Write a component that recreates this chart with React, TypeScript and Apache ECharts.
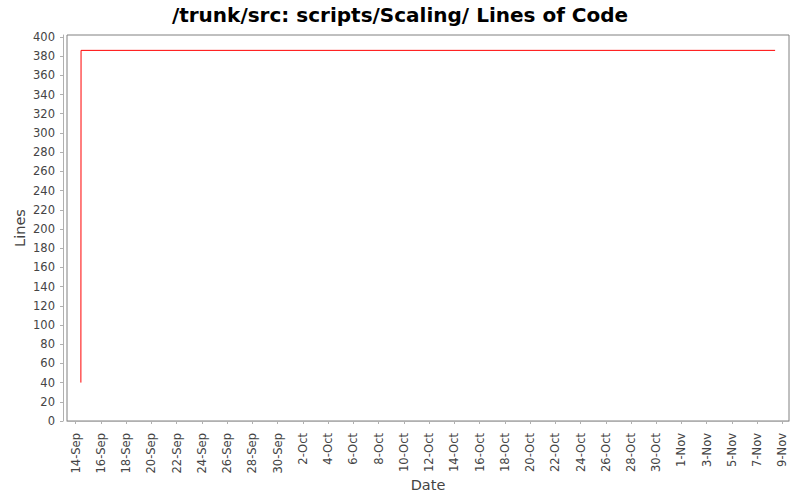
import React, { useEffect, useRef } from "react";
import * as echarts from "echarts";

// Data: revision timestamps and lines of code
const commitTimes = ["2009-09-14T10:00:00", "2009-09-14T10:20:00", "2009-11-08T10:00:00"];
const lineCounts = [40, 386, 386];

// X tick dates and their labels
const xTickDates = [
  "2009-09-14", "2009-09-16", "2009-09-18", "2009-09-20", "2009-09-22", "2009-09-24",
  "2009-09-26", "2009-09-28", "2009-09-30", "2009-10-02", "2009-10-04", "2009-10-06",
  "2009-10-08", "2009-10-10", "2009-10-12", "2009-10-14", "2009-10-16", "2009-10-18",
  "2009-10-20", "2009-10-22", "2009-10-24", "2009-10-26", "2009-10-28", "2009-10-30",
  "2009-11-01", "2009-11-03", "2009-11-05", "2009-11-07", "2009-11-09",
];
const xTickLabels = [
  "14-Sep", "16-Sep", "18-Sep", "20-Sep", "22-Sep", "24-Sep",
  "26-Sep", "28-Sep", "30-Sep", "2-Oct", "4-Oct", "6-Oct",
  "8-Oct", "10-Oct", "12-Oct", "14-Oct", "16-Oct", "18-Oct",
  "20-Oct", "22-Oct", "24-Oct", "26-Oct", "28-Oct", "30-Oct",
  "1-Nov", "3-Nov", "5-Nov", "7-Nov", "9-Nov",
];

// Y ticks
const yTickValues = [
  0, 20, 40, 60, 80, 100, 120, 140, 160, 180, 200,
  220, 240, 260, 280, 300, 320, 340, 360, 380, 400,
];
const yMin = 0;
const yMax = 402;

const TITLE = "/trunk/src: scripts/Scaling/ Lines of Code";

export default function App() {
  const ref = useRef<HTMLDivElement>(null);

  useEffect(() => {
    document.body.style.margin = "0";
    if (!ref.current) return;
    const chart = echarts.init(ref.current, undefined, { renderer: "svg" });

    const times = commitTimes.map((s) => new Date(s).getTime());
    const tickVals = xTickDates.map((s) => new Date(s + "T00:00:00").getTime());
    const labelMap = new Map<number, string>();
    tickVals.forEach((v, i) => labelMap.set(v, xTickLabels[i]));

    const tMin = Math.min(...times);
    const tMax = Math.max(...times);
    const margin = (tMax - tMin) * 0.02;

    const font = "'DejaVu Sans', sans-serif";

    chart.setOption({
      animation: false,
      backgroundColor: "#ffffff",
      title: {
        text: TITLE,
        left: "center",
        top: 0,
        textStyle: { fontFamily: font, fontSize: 20, fontWeight: "bold", color: "#000000" },
      },
      grid: {
        left: 67,
        right: 11,
        top: 35,
        bottom: 79,
        show: true,
        borderColor: "#808080",
        borderWidth: 1,
        backgroundColor: "#ffffff",
      },
      xAxis: {
        type: "value",
        min: tMin - margin,
        max: tMax + margin,
        offset: 4,
        name: "Date",
        nameLocation: "middle",
        nameGap: 52,
        nameMoveOverlap: false,
        nameTextStyle: { fontFamily: font, fontSize: 14.5, color: "#444444" },
        axisLine: { show: true, lineStyle: { color: "#b0b0b0", width: 1 } },
        axisTick: { show: true, length: 3, lineStyle: { color: "#b0b0b0" }, customValues: tickVals },
        axisLabel: {
          customValues: tickVals,
          rotate: 90,
          margin: 8,
          fontFamily: font,
          fontSize: 11.5,
          color: "#444444",
          formatter: (v: number) => labelMap.get(v) ?? "",
        },
        splitLine: { show: false },
      },
      yAxis: {
        type: "value",
        min: yMin,
        max: yMax,
        offset: 4,
        name: "Lines",
        nameLocation: "middle",
        nameGap: 36,
        nameMoveOverlap: false,
        nameTextStyle: { fontFamily: font, fontSize: 14.5, color: "#444444" },
        axisLine: { show: true, lineStyle: { color: "#b0b0b0", width: 1 } },
        axisTick: { show: true, length: 3, lineStyle: { color: "#b0b0b0" }, customValues: yTickValues },
        axisLabel: {
          customValues: yTickValues,
          margin: 8,
          fontFamily: font,
          fontSize: 11.5,
          color: "#444444",
        },
        splitLine: { show: false },
      },
      series: [
        {
          type: "line",
          data: times.map((t, i) => [t, lineCounts[i]]),
          showSymbol: false,
          lineStyle: { color: "#ff0000", width: 1 },
          itemStyle: { color: "#ff0000" },
        },
      ],
    });

    return () => chart.dispose();
  }, []);

  return (
    <div
      ref={ref}
      style={{ position: "fixed", left: 0, top: 0, width: 800, height: 500 }}
    />
  );
}
